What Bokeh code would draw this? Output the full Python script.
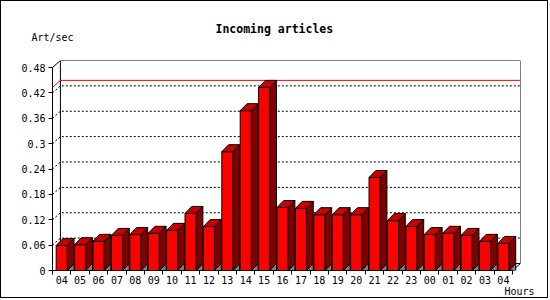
from bokeh.plotting import figure
from bokeh.models import FixedTicker, Range1d, Title
from bokeh.embed import file_html
from bokeh.resources import INLINE

# ---- data ----
hours = ["04", "05", "06", "07", "08", "09", "10", "11", "12", "13", "14", "15", "16",
         "17", "18", "19", "20", "21", "22", "23", "00", "01", "02", "03", "04"]
art_per_sec = [0.059, 0.061, 0.069, 0.083, 0.085, 0.088, 0.095, 0.135, 0.104, 0.281,
               0.378, 0.433, 0.149, 0.147, 0.132, 0.132, 0.132, 0.220, 0.118, 0.104,
               0.085, 0.088, 0.083, 0.069, 0.064]
y_ticks = [0, 0.06, 0.12, 0.18, 0.24, 0.3, 0.36, 0.42, 0.48]
y_tick_labels = ["0", "0.06", "0.12", "0.18", "0.24", "0.3", "0.36", "0.42", "0.48"]
title_text = "Incoming articles"
y_title = "Art/sec"
x_title = "Hours"

# ---- 3D geometry (style) ----
n = len(hours)
DXW, DYW = 0.43, 0.0166     # depth of walls
DXB, DYB = 0.37, 0.0165     # depth of bars
BAR_W = 0.6
YMAX = y_ticks[-1]
X1 = n + DXW
Y1 = YMAX + DYW

FONT = "DejaVu Sans Mono"

p = figure(width=548, height=298, x_range=Range1d(0, X1), y_range=Range1d(0, Y1),
           output_backend="svg", toolbar_location=None,
           min_border_left=51, min_border_right=29, min_border_top=59, min_border_bottom=29)
p.styles = {"border": "1px solid black"}
p.xgrid.visible = False
p.ygrid.visible = False
p.outline_line_color = None
p.background_fill_color = "white"
p.border_fill_color = "white"

# back plane
p.quad(left=[DXW], right=[X1], bottom=[DYW], top=[Y1], fill_color="white",
       line_color="black", line_width=1)

# grid lines on back plane and left wall
for v in y_ticks[1:-1]:
    p.line([0, DXW, X1], [v, v + DYW, v + DYW], line_color="black", line_width=1,
           line_dash="2 2")
# left wall top edge & floor right edge
p.line([0, DXW], [YMAX, Y1], line_color="black", line_width=1)
p.line([n, X1], [0, DYW], line_color="black", line_width=1)

# max line
vmax = max(art_per_sec)
p.line([0, DXW, X1], [vmax, vmax + DYW, vmax + DYW], line_color="red", line_width=1)

# bars
lefts = [i + 0.5 - BAR_W / 2 for i in range(n)]
rights = [i + 0.5 + BAR_W / 2 for i in range(n)]
shadow_xs = [[r, r + DXB, r + DXB] for r in rights]
shadow_ys = [[0, DYB, 0] for _ in rights]
side_xs = [[r, r + DXB, r + DXB, r] for r in rights]
side_ys = [[0, DYB, v + DYB, v] for v in art_per_sec]
top_xs = [[l, r, r + DXB, l + DXB] for l, r in zip(lefts, rights)]
top_ys = [[v, v, v + DYB, v + DYB] for v in art_per_sec]

p.patches(shadow_xs, shadow_ys, fill_color="#808080", line_color="black", line_width=1)
p.patches(side_xs, side_ys, fill_color="#800000", line_color="black", line_width=1)
p.quad(left=lefts, right=rights, bottom=0, top=art_per_sec, fill_color="#ff0000",
       line_color="black", line_width=1)
p.patches(top_xs, top_ys, fill_color="#c80000", line_color="black", line_width=1)

# axes
xa = p.xaxis[0]
centers = [i + 0.5 for i in range(n)]
xa.ticker = FixedTicker(ticks=centers, minor_ticks=list(range(n + 1)))
xa.major_label_overrides = {c: h for c, h in zip(centers, hours)}
xa.bounds = (0, n)
xa.major_tick_out = 0
xa.major_tick_in = 0
xa.minor_tick_out = 4
xa.minor_tick_in = 0
xa.major_label_standoff = 1
xa.major_label_text_font = FONT
xa.major_label_text_font_size = "10px"
xa.major_label_text_color = "black"
xa.axis_line_color = "black"
xa.minor_tick_line_color = "black"

ya = p.yaxis[0]
ya.ticker = FixedTicker(ticks=y_ticks, minor_ticks=[])
ya.major_label_overrides = {t: s for t, s in zip(y_ticks, y_tick_labels)}
ya.bounds = (0, YMAX)
ya.major_tick_out = 4
ya.major_tick_in = 0
ya.minor_tick_out = 0
ya.minor_tick_in = 0
ya.major_label_standoff = 3
ya.major_label_text_font = FONT
ya.major_label_text_font_size = "10px"
ya.major_label_text_color = "black"
ya.axis_line_color = "black"
ya.major_tick_line_color = "black"

# texts as titles in side panels (first added = closest to the frame)
p.add_layout(Title(text=" ", text_font=FONT, text_font_size="4px", standoff=11), "above")
p.add_layout(Title(text=y_title, text_font=FONT, text_font_size="10px",
                   text_font_style="normal", text_color="black", align="left",
                   offset=-21, standoff=0, vertical_align="bottom"), "above")
p.add_layout(Title(text=title_text, text_font=FONT, text_font_size="11.5px",
                   text_font_style="bold", text_color="black", align="left",
                   offset=163, standoff=-12, vertical_align="bottom"), "above")
p.add_layout(Title(text=x_title, text_font=FONT, text_font_size="10px",
                   text_font_style="normal", text_color="black", align="left",
                   offset=452, standoff=-2, vertical_align="top"), "below")

open("out.html", "w").write(file_html(p, INLINE))
